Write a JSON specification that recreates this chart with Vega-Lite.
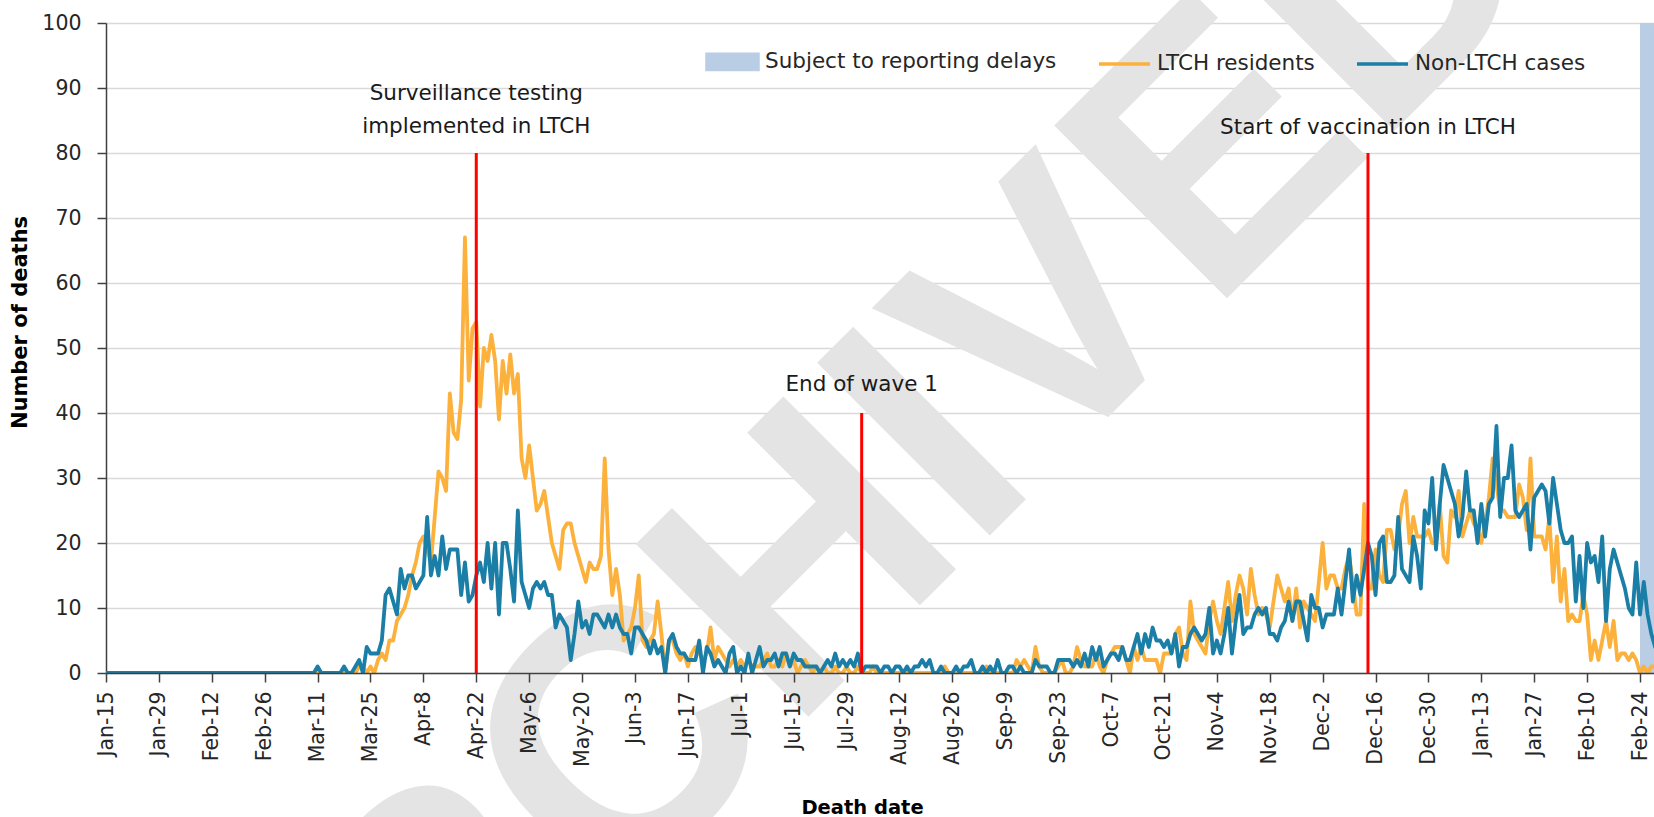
{
"$schema": "https://vega.github.io/schema/vega-lite/v6.json",
"width": 1548,
"height": 650,
"autosize": {"type": "none"},
"padding": {"left": 106, "top": 23, "right": 0, "bottom": 144},
"config": {"view": {"stroke": null}, "font": "DejaVu Sans"},
"datasets": {
"deaths": [
{"date":"2020-01-15","ltch":0,"non":0},{"date":"2020-01-16","ltch":0,"non":0},{"date":"2020-01-17","ltch":0,"non":0},{"date":"2020-01-18","ltch":0,"non":0},{"date":"2020-01-19","ltch":0,"non":0},{"date":"2020-01-20","ltch":0,"non":0},{"date":"2020-01-21","ltch":0,"non":0},{"date":"2020-01-22","ltch":0,"non":0},{"date":"2020-01-23","ltch":0,"non":0},{"date":"2020-01-24","ltch":0,"non":0},{"date":"2020-01-25","ltch":0,"non":0},{"date":"2020-01-26","ltch":0,"non":0},{"date":"2020-01-27","ltch":0,"non":0},{"date":"2020-01-28","ltch":0,"non":0},{"date":"2020-01-29","ltch":0,"non":0},{"date":"2020-01-30","ltch":0,"non":0},{"date":"2020-01-31","ltch":0,"non":0},
{"date":"2020-02-01","ltch":0,"non":0},{"date":"2020-02-02","ltch":0,"non":0},{"date":"2020-02-03","ltch":0,"non":0},{"date":"2020-02-04","ltch":0,"non":0},{"date":"2020-02-05","ltch":0,"non":0},{"date":"2020-02-06","ltch":0,"non":0},{"date":"2020-02-07","ltch":0,"non":0},{"date":"2020-02-08","ltch":0,"non":0},{"date":"2020-02-09","ltch":0,"non":0},{"date":"2020-02-10","ltch":0,"non":0},{"date":"2020-02-11","ltch":0,"non":0},{"date":"2020-02-12","ltch":0,"non":0},{"date":"2020-02-13","ltch":0,"non":0},{"date":"2020-02-14","ltch":0,"non":0},{"date":"2020-02-15","ltch":0,"non":0},{"date":"2020-02-16","ltch":0,"non":0},{"date":"2020-02-17","ltch":0,"non":0},{"date":"2020-02-18","ltch":0,"non":0},{"date":"2020-02-19","ltch":0,"non":0},{"date":"2020-02-20","ltch":0,"non":0},{"date":"2020-02-21","ltch":0,"non":0},{"date":"2020-02-22","ltch":0,"non":0},{"date":"2020-02-23","ltch":0,"non":0},{"date":"2020-02-24","ltch":0,"non":0},{"date":"2020-02-25","ltch":0,"non":0},{"date":"2020-02-26","ltch":0,"non":0},{"date":"2020-02-27","ltch":0,"non":0},{"date":"2020-02-28","ltch":0,"non":0},{"date":"2020-02-29","ltch":0,"non":0},
{"date":"2020-03-01","ltch":0,"non":0},{"date":"2020-03-02","ltch":0,"non":0},{"date":"2020-03-03","ltch":0,"non":0},{"date":"2020-03-04","ltch":0,"non":0},{"date":"2020-03-05","ltch":0,"non":0},{"date":"2020-03-06","ltch":0,"non":0},{"date":"2020-03-07","ltch":0,"non":0},{"date":"2020-03-08","ltch":0,"non":0},{"date":"2020-03-09","ltch":0,"non":0},{"date":"2020-03-10","ltch":0,"non":0},{"date":"2020-03-11","ltch":0,"non":1},{"date":"2020-03-12","ltch":0,"non":0},{"date":"2020-03-13","ltch":0,"non":0},{"date":"2020-03-14","ltch":0,"non":0},{"date":"2020-03-15","ltch":0,"non":0},{"date":"2020-03-16","ltch":0,"non":0},{"date":"2020-03-17","ltch":0,"non":0},{"date":"2020-03-18","ltch":0,"non":1},{"date":"2020-03-19","ltch":0,"non":0},{"date":"2020-03-20","ltch":0,"non":0},{"date":"2020-03-21","ltch":0,"non":1},{"date":"2020-03-22","ltch":1,"non":2},{"date":"2020-03-23","ltch":1,"non":0},{"date":"2020-03-24","ltch":0,"non":4},{"date":"2020-03-25","ltch":1,"non":3},{"date":"2020-03-26","ltch":0,"non":3},{"date":"2020-03-27","ltch":2,"non":3},{"date":"2020-03-28","ltch":3,"non":5},{"date":"2020-03-29","ltch":2,"non":12},{"date":"2020-03-30","ltch":5,"non":13},{"date":"2020-03-31","ltch":5,"non":11},
{"date":"2020-04-01","ltch":8,"non":9},{"date":"2020-04-02","ltch":9,"non":16},{"date":"2020-04-03","ltch":10,"non":13},{"date":"2020-04-04","ltch":12,"non":15},{"date":"2020-04-05","ltch":15,"non":15},{"date":"2020-04-06","ltch":17,"non":13},{"date":"2020-04-07","ltch":20,"non":14},{"date":"2020-04-08","ltch":21,"non":15},{"date":"2020-04-09","ltch":19,"non":24},{"date":"2020-04-10","ltch":17,"non":15},{"date":"2020-04-11","ltch":24,"non":18},{"date":"2020-04-12","ltch":31,"non":15},{"date":"2020-04-13","ltch":30,"non":21},{"date":"2020-04-14","ltch":28,"non":16},{"date":"2020-04-15","ltch":43,"non":19},{"date":"2020-04-16","ltch":37,"non":19},{"date":"2020-04-17","ltch":36,"non":19},{"date":"2020-04-18","ltch":42,"non":12},{"date":"2020-04-19","ltch":67,"non":17},{"date":"2020-04-20","ltch":45,"non":11},{"date":"2020-04-21","ltch":53,"non":12},{"date":"2020-04-22","ltch":54,"non":15},{"date":"2020-04-23","ltch":41,"non":17},{"date":"2020-04-24","ltch":50,"non":14},{"date":"2020-04-25","ltch":48,"non":20},{"date":"2020-04-26","ltch":52,"non":13},{"date":"2020-04-27","ltch":48,"non":20},{"date":"2020-04-28","ltch":39,"non":9},{"date":"2020-04-29","ltch":48,"non":20},{"date":"2020-04-30","ltch":43,"non":20},
{"date":"2020-05-01","ltch":49,"non":16},{"date":"2020-05-02","ltch":43,"non":11},{"date":"2020-05-03","ltch":46,"non":25},{"date":"2020-05-04","ltch":33,"non":14},{"date":"2020-05-05","ltch":30,"non":12},{"date":"2020-05-06","ltch":35,"non":10},{"date":"2020-05-07","ltch":30,"non":13},{"date":"2020-05-08","ltch":25,"non":14},{"date":"2020-05-09","ltch":26,"non":13},{"date":"2020-05-10","ltch":28,"non":14},{"date":"2020-05-11","ltch":24,"non":12},{"date":"2020-05-12","ltch":20,"non":12},{"date":"2020-05-13","ltch":18,"non":7},{"date":"2020-05-14","ltch":16,"non":9},{"date":"2020-05-15","ltch":22,"non":8},{"date":"2020-05-16","ltch":23,"non":7},{"date":"2020-05-17","ltch":23,"non":2},{"date":"2020-05-18","ltch":20,"non":6},{"date":"2020-05-19","ltch":18,"non":11},{"date":"2020-05-20","ltch":16,"non":7},{"date":"2020-05-21","ltch":14,"non":8},{"date":"2020-05-22","ltch":17,"non":6},{"date":"2020-05-23","ltch":16,"non":9},{"date":"2020-05-24","ltch":16,"non":9},{"date":"2020-05-25","ltch":18,"non":8},{"date":"2020-05-26","ltch":33,"non":7},{"date":"2020-05-27","ltch":19,"non":9},{"date":"2020-05-28","ltch":12,"non":7},{"date":"2020-05-29","ltch":16,"non":9},{"date":"2020-05-30","ltch":12,"non":7},{"date":"2020-05-31","ltch":5,"non":6},
{"date":"2020-06-01","ltch":6,"non":6},{"date":"2020-06-02","ltch":7,"non":3},{"date":"2020-06-03","ltch":10,"non":7},{"date":"2020-06-04","ltch":15,"non":7},{"date":"2020-06-05","ltch":5,"non":6},{"date":"2020-06-06","ltch":4,"non":5},{"date":"2020-06-07","ltch":5,"non":3},{"date":"2020-06-08","ltch":6,"non":5},{"date":"2020-06-09","ltch":11,"non":3},{"date":"2020-06-10","ltch":6,"non":4},{"date":"2020-06-11","ltch":0,"non":0},{"date":"2020-06-12","ltch":5,"non":5},{"date":"2020-06-13","ltch":5,"non":6},{"date":"2020-06-14","ltch":3,"non":4},{"date":"2020-06-15","ltch":2,"non":3},{"date":"2020-06-16","ltch":3,"non":3},{"date":"2020-06-17","ltch":1,"non":2},{"date":"2020-06-18","ltch":3,"non":2},{"date":"2020-06-19","ltch":4,"non":2},{"date":"2020-06-20","ltch":3,"non":5},{"date":"2020-06-21","ltch":2,"non":0},{"date":"2020-06-22","ltch":3,"non":4},{"date":"2020-06-23","ltch":7,"non":3},{"date":"2020-06-24","ltch":2,"non":1},{"date":"2020-06-25","ltch":4,"non":2},{"date":"2020-06-26","ltch":3,"non":1},{"date":"2020-06-27","ltch":2,"non":0},{"date":"2020-06-28","ltch":1,"non":3},{"date":"2020-06-29","ltch":2,"non":4},{"date":"2020-06-30","ltch":1,"non":0},
{"date":"2020-07-01","ltch":2,"non":1},{"date":"2020-07-02","ltch":1,"non":0},{"date":"2020-07-03","ltch":2,"non":3},{"date":"2020-07-04","ltch":1,"non":0},{"date":"2020-07-05","ltch":1,"non":2},{"date":"2020-07-06","ltch":1,"non":4},{"date":"2020-07-07","ltch":2,"non":1},{"date":"2020-07-08","ltch":3,"non":2},{"date":"2020-07-09","ltch":1,"non":2},{"date":"2020-07-10","ltch":1,"non":3},{"date":"2020-07-11","ltch":2,"non":1},{"date":"2020-07-12","ltch":1,"non":3},{"date":"2020-07-13","ltch":3,"non":3},{"date":"2020-07-14","ltch":1,"non":1},{"date":"2020-07-15","ltch":2,"non":3},{"date":"2020-07-16","ltch":0,"non":2},{"date":"2020-07-17","ltch":1,"non":2},{"date":"2020-07-18","ltch":2,"non":1},{"date":"2020-07-19","ltch":1,"non":1},{"date":"2020-07-20","ltch":0,"non":1},{"date":"2020-07-21","ltch":1,"non":1},{"date":"2020-07-22","ltch":0,"non":0},{"date":"2020-07-23","ltch":1,"non":1},{"date":"2020-07-24","ltch":0,"non":2},{"date":"2020-07-25","ltch":0,"non":1},{"date":"2020-07-26","ltch":1,"non":3},{"date":"2020-07-27","ltch":0,"non":1},{"date":"2020-07-28","ltch":0,"non":2},{"date":"2020-07-29","ltch":1,"non":1},{"date":"2020-07-30","ltch":0,"non":2},{"date":"2020-07-31","ltch":0,"non":1},
{"date":"2020-08-01","ltch":1,"non":3},{"date":"2020-08-02","ltch":0,"non":0},{"date":"2020-08-03","ltch":0,"non":1},{"date":"2020-08-04","ltch":0,"non":1},{"date":"2020-08-05","ltch":1,"non":1},{"date":"2020-08-06","ltch":0,"non":1},{"date":"2020-08-07","ltch":0,"non":0},{"date":"2020-08-08","ltch":0,"non":1},{"date":"2020-08-09","ltch":0,"non":1},{"date":"2020-08-10","ltch":0,"non":0},{"date":"2020-08-11","ltch":0,"non":1},{"date":"2020-08-12","ltch":0,"non":1},{"date":"2020-08-13","ltch":0,"non":0},{"date":"2020-08-14","ltch":0,"non":1},{"date":"2020-08-15","ltch":0,"non":0},{"date":"2020-08-16","ltch":0,"non":1},{"date":"2020-08-17","ltch":0,"non":1},{"date":"2020-08-18","ltch":0,"non":2},{"date":"2020-08-19","ltch":0,"non":1},{"date":"2020-08-20","ltch":0,"non":2},{"date":"2020-08-21","ltch":0,"non":0},{"date":"2020-08-22","ltch":0,"non":0},{"date":"2020-08-23","ltch":0,"non":1},{"date":"2020-08-24","ltch":1,"non":0},{"date":"2020-08-25","ltch":0,"non":0},{"date":"2020-08-26","ltch":0,"non":0},{"date":"2020-08-27","ltch":0,"non":1},{"date":"2020-08-28","ltch":0,"non":0},{"date":"2020-08-29","ltch":0,"non":1},{"date":"2020-08-30","ltch":0,"non":1},{"date":"2020-08-31","ltch":0,"non":2},
{"date":"2020-09-01","ltch":0,"non":0},{"date":"2020-09-02","ltch":0,"non":0},{"date":"2020-09-03","ltch":0,"non":1},{"date":"2020-09-04","ltch":1,"non":0},{"date":"2020-09-05","ltch":0,"non":1},{"date":"2020-09-06","ltch":0,"non":0},{"date":"2020-09-07","ltch":0,"non":2},{"date":"2020-09-08","ltch":0,"non":0},{"date":"2020-09-09","ltch":0,"non":0},{"date":"2020-09-10","ltch":0,"non":1},{"date":"2020-09-11","ltch":0,"non":1},{"date":"2020-09-12","ltch":2,"non":0},{"date":"2020-09-13","ltch":1,"non":1},{"date":"2020-09-14","ltch":2,"non":0},{"date":"2020-09-15","ltch":1,"non":0},{"date":"2020-09-16","ltch":0,"non":0},{"date":"2020-09-17","ltch":4,"non":2},{"date":"2020-09-18","ltch":1,"non":1},{"date":"2020-09-19","ltch":0,"non":1},{"date":"2020-09-20","ltch":0,"non":1},{"date":"2020-09-21","ltch":0,"non":0},{"date":"2020-09-22","ltch":0,"non":0},{"date":"2020-09-23","ltch":1,"non":2},{"date":"2020-09-24","ltch":2,"non":2},{"date":"2020-09-25","ltch":0,"non":2},{"date":"2020-09-26","ltch":0,"non":2},{"date":"2020-09-27","ltch":1,"non":1},{"date":"2020-09-28","ltch":4,"non":2},{"date":"2020-09-29","ltch":2,"non":1},{"date":"2020-09-30","ltch":1,"non":3},
{"date":"2020-10-01","ltch":1,"non":1},{"date":"2020-10-02","ltch":1,"non":4},{"date":"2020-10-03","ltch":3,"non":2},{"date":"2020-10-04","ltch":1,"non":4},{"date":"2020-10-05","ltch":0,"non":1},{"date":"2020-10-06","ltch":2,"non":2},{"date":"2020-10-07","ltch":3,"non":3},{"date":"2020-10-08","ltch":4,"non":3},{"date":"2020-10-09","ltch":4,"non":2},{"date":"2020-10-10","ltch":4,"non":4},{"date":"2020-10-11","ltch":2,"non":2},{"date":"2020-10-12","ltch":0,"non":2},{"date":"2020-10-13","ltch":4,"non":4},{"date":"2020-10-14","ltch":2,"non":6},{"date":"2020-10-15","ltch":4,"non":3},{"date":"2020-10-16","ltch":2,"non":6},{"date":"2020-10-17","ltch":2,"non":4},{"date":"2020-10-18","ltch":2,"non":7},{"date":"2020-10-19","ltch":2,"non":5},{"date":"2020-10-20","ltch":0,"non":5},{"date":"2020-10-21","ltch":3,"non":4},{"date":"2020-10-22","ltch":3,"non":5},{"date":"2020-10-23","ltch":3,"non":3},{"date":"2020-10-24","ltch":6,"non":6},{"date":"2020-10-25","ltch":7,"non":1},{"date":"2020-10-26","ltch":3,"non":4},{"date":"2020-10-27","ltch":2,"non":4},{"date":"2020-10-28","ltch":11,"non":6},{"date":"2020-10-29","ltch":6,"non":7},{"date":"2020-10-30","ltch":5,"non":6},{"date":"2020-10-31","ltch":4,"non":5},
{"date":"2020-11-01","ltch":3,"non":6},{"date":"2020-11-02","ltch":8,"non":10},{"date":"2020-11-03","ltch":11,"non":3},{"date":"2020-11-04","ltch":8,"non":5},{"date":"2020-11-05","ltch":6,"non":3},{"date":"2020-11-06","ltch":10,"non":6},{"date":"2020-11-07","ltch":14,"non":10},{"date":"2020-11-08","ltch":8,"non":3},{"date":"2020-11-09","ltch":12,"non":8},{"date":"2020-11-10","ltch":15,"non":12},{"date":"2020-11-11","ltch":13,"non":6},{"date":"2020-11-12","ltch":9,"non":7},{"date":"2020-11-13","ltch":16,"non":7},{"date":"2020-11-14","ltch":12,"non":9},{"date":"2020-11-15","ltch":9,"non":10},{"date":"2020-11-16","ltch":10,"non":9},{"date":"2020-11-17","ltch":9,"non":10},{"date":"2020-11-18","ltch":7,"non":6},{"date":"2020-11-19","ltch":11,"non":6},{"date":"2020-11-20","ltch":15,"non":5},{"date":"2020-11-21","ltch":13,"non":7},{"date":"2020-11-22","ltch":11,"non":8},{"date":"2020-11-23","ltch":13,"non":11},{"date":"2020-11-24","ltch":8,"non":8},{"date":"2020-11-25","ltch":13,"non":11},{"date":"2020-11-26","ltch":7,"non":11},{"date":"2020-11-27","ltch":11,"non":8},{"date":"2020-11-28","ltch":10,"non":5},{"date":"2020-11-29","ltch":9,"non":12},{"date":"2020-11-30","ltch":8,"non":10},
{"date":"2020-12-01","ltch":14,"non":10},{"date":"2020-12-02","ltch":20,"non":7},{"date":"2020-12-03","ltch":13,"non":9},{"date":"2020-12-04","ltch":15,"non":9},{"date":"2020-12-05","ltch":15,"non":9},{"date":"2020-12-06","ltch":13,"non":13},{"date":"2020-12-07","ltch":13,"non":9},{"date":"2020-12-08","ltch":16,"non":14},{"date":"2020-12-09","ltch":18,"non":19},{"date":"2020-12-10","ltch":14,"non":11},{"date":"2020-12-11","ltch":9,"non":15},{"date":"2020-12-12","ltch":9,"non":12},{"date":"2020-12-13","ltch":26,"non":16},{"date":"2020-12-14","ltch":13,"non":20},{"date":"2020-12-15","ltch":13,"non":18},{"date":"2020-12-16","ltch":19,"non":12},{"date":"2020-12-17","ltch":15,"non":20},{"date":"2020-12-18","ltch":14,"non":21},{"date":"2020-12-19","ltch":22,"non":14},{"date":"2020-12-20","ltch":22,"non":14},{"date":"2020-12-21","ltch":19,"non":15},{"date":"2020-12-22","ltch":21,"non":24},{"date":"2020-12-23","ltch":26,"non":16},{"date":"2020-12-24","ltch":28,"non":15},{"date":"2020-12-25","ltch":20,"non":14},{"date":"2020-12-26","ltch":24,"non":21},{"date":"2020-12-27","ltch":21,"non":18},{"date":"2020-12-28","ltch":21,"non":13},{"date":"2020-12-29","ltch":21,"non":25},{"date":"2020-12-30","ltch":22,"non":23},{"date":"2020-12-31","ltch":20,"non":30},
{"date":"2021-01-01","ltch":20,"non":19},{"date":"2021-01-02","ltch":26,"non":26},{"date":"2021-01-03","ltch":18,"non":32},{"date":"2021-01-04","ltch":17,"non":30},{"date":"2021-01-05","ltch":25,"non":28},{"date":"2021-01-06","ltch":24,"non":26},{"date":"2021-01-07","ltch":28,"non":21},{"date":"2021-01-08","ltch":21,"non":24},{"date":"2021-01-09","ltch":23,"non":31},{"date":"2021-01-10","ltch":25,"non":25},{"date":"2021-01-11","ltch":23,"non":25},{"date":"2021-01-12","ltch":22,"non":20},{"date":"2021-01-13","ltch":20,"non":26},{"date":"2021-01-14","ltch":23,"non":21},{"date":"2021-01-15","ltch":27,"non":26},{"date":"2021-01-16","ltch":33,"non":27},{"date":"2021-01-17","ltch":29,"non":38},{"date":"2021-01-18","ltch":25,"non":24},{"date":"2021-01-19","ltch":25,"non":30},{"date":"2021-01-20","ltch":24,"non":30},{"date":"2021-01-21","ltch":24,"non":35},{"date":"2021-01-22","ltch":24,"non":25},{"date":"2021-01-23","ltch":29,"non":24},{"date":"2021-01-24","ltch":27,"non":25},{"date":"2021-01-25","ltch":22,"non":26},{"date":"2021-01-26","ltch":33,"non":19},{"date":"2021-01-27","ltch":21,"non":27},{"date":"2021-01-28","ltch":21,"non":28},{"date":"2021-01-29","ltch":21,"non":29},{"date":"2021-01-30","ltch":19,"non":28},{"date":"2021-01-31","ltch":24,"non":23},
{"date":"2021-02-01","ltch":14,"non":30},{"date":"2021-02-02","ltch":21,"non":26},{"date":"2021-02-03","ltch":11,"non":22},{"date":"2021-02-04","ltch":16,"non":20},{"date":"2021-02-05","ltch":8,"non":20},{"date":"2021-02-06","ltch":9,"non":21},{"date":"2021-02-07","ltch":8,"non":11},{"date":"2021-02-08","ltch":8,"non":18},{"date":"2021-02-09","ltch":12,"non":10},{"date":"2021-02-10","ltch":9,"non":20},{"date":"2021-02-11","ltch":2,"non":17},{"date":"2021-02-12","ltch":5,"non":18},{"date":"2021-02-13","ltch":2,"non":14},{"date":"2021-02-14","ltch":5,"non":21},{"date":"2021-02-15","ltch":8,"non":8},{"date":"2021-02-16","ltch":4,"non":16},{"date":"2021-02-17","ltch":8,"non":19},{"date":"2021-02-18","ltch":2,"non":17},{"date":"2021-02-19","ltch":3,"non":15},{"date":"2021-02-20","ltch":3,"non":13},{"date":"2021-02-21","ltch":2,"non":10},{"date":"2021-02-22","ltch":3,"non":9},{"date":"2021-02-23","ltch":2,"non":17},{"date":"2021-02-24","ltch":0,"non":9},{"date":"2021-02-25","ltch":1,"non":14},{"date":"2021-02-26","ltch":0,"non":9},{"date":"2021-02-27","ltch":1,"non":6},{"date":"2021-02-28","ltch":1,"non":4}
]
},
"layer": [
{
"data": {"values": [{"date": "2020-07-24", "value": 19.5, "label": "ARCHIVED"}]},
"mark": {"type": "text", "font": "Liberation Sans", "fontWeight": "bold", "fontSize": 355, "angle": -45, "align": "center", "baseline": "middle", "color": "#E4E4E4"},
"encoding": {
"x": {"field": "date", "type": "temporal", "title": "Death date"},
"y": {"field": "value", "type": "quantitative", "title": "Number of deaths"},
"text": {"field": "label"}
}
},
{
"data": {"values": [{"start": "2021-02-24", "end": "2021-02-28", "lo": 0, "hi": 100}]},
"mark": {"type": "rect", "clip": true},
"encoding": {
"x": {"field": "start", "type": "temporal", "title": "Death date"},
"x2": {"field": "end"},
"y": {"field": "lo", "type": "quantitative", "title": "Number of deaths"},
"y2": {"field": "hi"},
"color": {"datum": "Subject to reporting delays"}
}
},
{
"data": {"name": "deaths"},
"mark": {"type": "line", "strokeWidth": 3.8, "strokeJoin": "round", "strokeCap": "round", "clip": true},
"encoding": {
"x": {"field": "date", "type": "temporal", "title": "Death date",
"scale": {"type": "utc", "domain": [{"year": 2020, "month": 1, "date": 15, "utc": true}, {"year": 2021, "month": 2, "date": 27, "hours": 16, "minutes": 48, "utc": true}]},
"axis": {"zindex": 1, "grid": false, "labelExpr": "utcFormat(datum.value, '%b-%-d')", "labelAngle": -90, "labelFlush": false, "labelOverlap": false,
"values": [
{"year":2020,"month":1,"date":15,"utc":true},{"year":2020,"month":1,"date":29,"utc":true},{"year":2020,"month":2,"date":12,"utc":true},{"year":2020,"month":2,"date":26,"utc":true},{"year":2020,"month":3,"date":11,"utc":true},{"year":2020,"month":3,"date":25,"utc":true},{"year":2020,"month":4,"date":8,"utc":true},{"year":2020,"month":4,"date":22,"utc":true},{"year":2020,"month":5,"date":6,"utc":true},{"year":2020,"month":5,"date":20,"utc":true},{"year":2020,"month":6,"date":3,"utc":true},{"year":2020,"month":6,"date":17,"utc":true},{"year":2020,"month":7,"date":1,"utc":true},{"year":2020,"month":7,"date":15,"utc":true},{"year":2020,"month":7,"date":29,"utc":true},{"year":2020,"month":8,"date":12,"utc":true},{"year":2020,"month":8,"date":26,"utc":true},{"year":2020,"month":9,"date":9,"utc":true},{"year":2020,"month":9,"date":23,"utc":true},{"year":2020,"month":10,"date":7,"utc":true},{"year":2020,"month":10,"date":21,"utc":true},{"year":2020,"month":11,"date":4,"utc":true},{"year":2020,"month":11,"date":18,"utc":true},{"year":2020,"month":12,"date":2,"utc":true},{"year":2020,"month":12,"date":16,"utc":true},{"year":2020,"month":12,"date":30,"utc":true},{"year":2021,"month":1,"date":13,"utc":true},{"year":2021,"month":1,"date":27,"utc":true},{"year":2021,"month":2,"date":10,"utc":true},{"year":2021,"month":2,"date":24,"utc":true}
],
"labelFont": "DejaVu Sans", "labelFontSize": 20.5, "labelColor": "#262626", "labelPadding": 9,
"tickSize": 9, "tickWidth": 1.5, "tickColor": "#404040", "domainColor": "#404040", "domainWidth": 1.5,
"titleFont": "DejaVu Sans", "titleFontWeight": "bold", "titleFontSize": 19.5, "titleColor": "#000000",
"titleX": 756, "titleY": 140, "titleAlign": "center", "titleBaseline": "alphabetic", "titleAnchor": null}
},
"y": {"field": "ltch", "type": "quantitative", "title": "Number of deaths",
"scale": {"domain": [0, 100], "nice": false, "zero": true},
"axis": {"values": [0,10,20,30,40,50,60,70,80,90,100], "grid": true, "gridColor": "#D9D9D9", "gridWidth": 1.5,
"labelFont": "DejaVu Sans", "labelFontSize": 20.5, "labelColor": "#262626", "labelPadding": 16,
"tickSize": 9, "tickWidth": 1.5, "tickColor": "#404040", "domainColor": "#404040", "domainWidth": 1.5,
"titleFont": "DejaVu Sans", "titleFontWeight": "bold", "titleFontSize": 21, "titleColor": "#000000",
"titleX": -86, "titleY": 299, "titleAngle": -90, "titleAlign": "center", "titleBaseline": "middle"}
},
"color": {"datum": "LTCH residents",
"scale": {"domain": ["Subject to reporting delays", "LTCH residents", "Non-LTCH cases"], "range": ["#B9CDE5", "#FBB13C", "#1A7EA6"]},
"legend": {"title": null, "orient": "none", "legendX": 599, "legendY": 11, "direction": "horizontal",
"symbolType": "stroke", "symbolSize": 2600, "symbolStrokeWidth": 3.5, "labelFont": "DejaVu Sans", "labelFontSize": 21.5, "labelColor": "#262626",
"labelOffset": 5, "labelLimit": 0, "columnPadding": 35, "padding": 0,
"encode": {"symbols": {"update": {
"shape": {"signal": "datum.value === 'Subject to reporting delays' ? 'M-1,-0.3H1V0.3H-1Z' : 'stroke'"},
"fill": {"signal": "datum.value === 'Subject to reporting delays' ? '#B9CDE5' : 'transparent'"},
"stroke": {"signal": "datum.value === 'Subject to reporting delays' ? 'transparent' : scale('color', datum.value)"},
"strokeWidth": {"value": 3.5},
"opacity": {"value": 1}
}}}}
}
}
},
{
"data": {"name": "deaths"},
"mark": {"type": "line", "strokeWidth": 3.8, "strokeJoin": "round", "strokeCap": "round", "clip": true},
"encoding": {
"x": {"field": "date", "type": "temporal", "title": "Death date"},
"y": {"field": "non", "type": "quantitative", "title": "Number of deaths"},
"color": {"datum": "Non-LTCH cases"}
}
},
{
"data": {"values": [{"date": "2020-04-22", "top": 80, "bottom": 0}, {"date": "2020-08-02", "top": 40, "bottom": 0}, {"date": "2020-12-14", "top": 80, "bottom": 0}]},
"mark": {"type": "rule", "color": "#FF0000", "strokeWidth": 3},
"encoding": {
"x": {"field": "date", "type": "temporal", "title": "Death date"},
"y": {"field": "bottom", "type": "quantitative", "title": "Number of deaths"},
"y2": {"field": "top"}
}
},
{
"data": {"values": [
{"date": "2020-04-22", "value": 89.1, "label": "Surveillance testing"},
{"date": "2020-04-22", "value": 84.0, "label": "implemented in LTCH"},
{"date": "2020-08-02", "value": 44.3, "label": "End of wave 1"},
{"date": "2020-12-14", "value": 83.9, "label": "Start of vaccination in LTCH"}
]},
"mark": {"type": "text", "font": "DejaVu Sans", "fontSize": 21.5, "align": "center", "baseline": "middle", "color": "#1A1A1A"},
"encoding": {
"x": {"field": "date", "type": "temporal", "title": "Death date"},
"y": {"field": "value", "type": "quantitative", "title": "Number of deaths"},
"text": {"field": "label"}
}
}
]
}
